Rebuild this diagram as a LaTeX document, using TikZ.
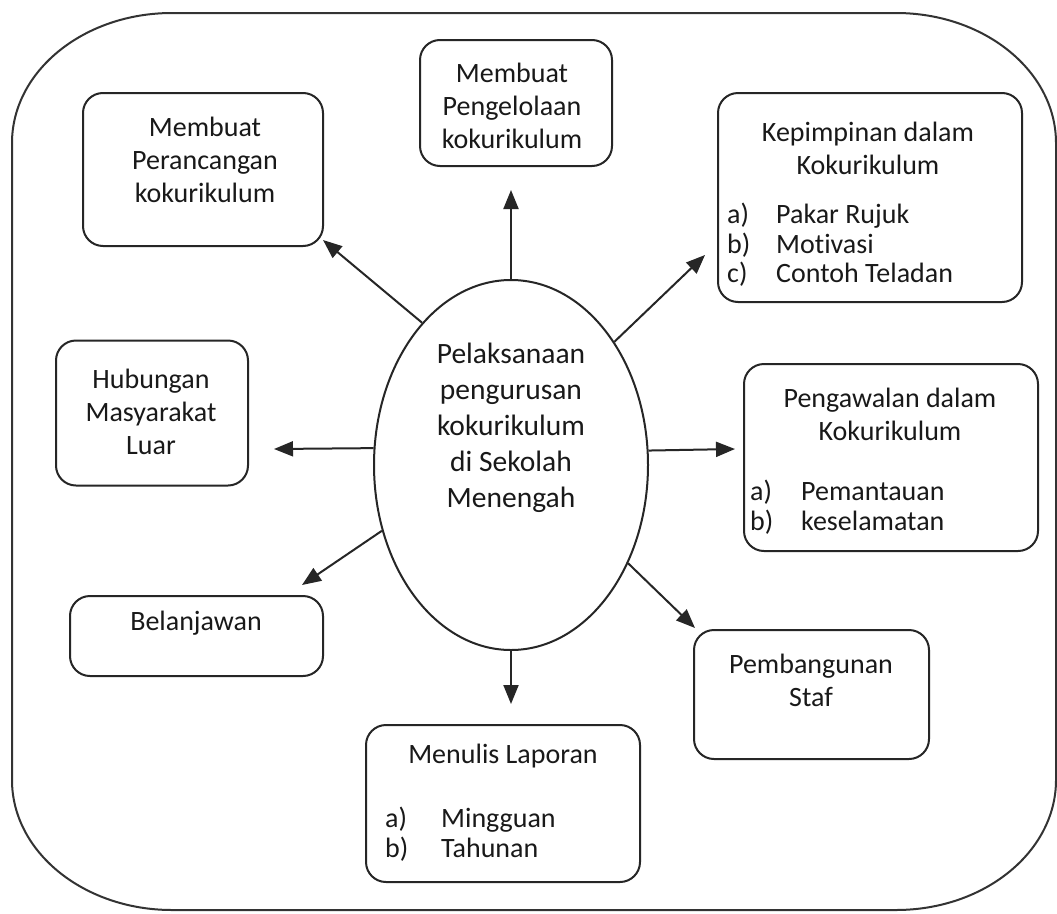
\documentclass[tikz,border=0pt]{standalone}
\usepackage{fontspec}
\setmainfont{Carlito}[Ligatures=NoCommon]
\usetikzlibrary{arrows.meta,shapes.geometric}
\tikzset{
  x=1pt,y=-1pt,
  box/.style={draw=black!85,line width=2pt,rounded corners=20pt,inner sep=0pt},
  txt/.style={inner sep=0pt,align=center,text=black!90,font=\fontsize{28}{33}\selectfont},
  lst/.style={inner sep=0pt,align=left,anchor=west,text=black!90,font=\fontsize{28}{29.5}\selectfont},
  ctxt/.style={inner sep=0pt,align=center,text=black!90,font=\fontsize{29.5}{36}\selectfont},
  conn/.style={line width=2pt,draw=black!85,-{Triangle[length=19pt,width=15pt]}},
  outer/.style={draw=black!80,line width=2pt}
}
\newcommand{\lab}[2]{\makebox[#1][l]{#2}}
\begin{document}
\begin{tikzpicture}
\useasboundingbox[fill=white] (0,0) rectangle (1057,913);
% outer frame
\draw[outer] (172,13) -- (896,13)
  arc[start angle=-90,end angle=0,x radius=160,y radius=130] -- (1056,780)
  arc[start angle=0,end angle=90,x radius=160,y radius=130] -- (172,910)
  arc[start angle=90,end angle=180,x radius=160,y radius=130] -- (12,143)
  arc[start angle=180,end angle=270,x radius=160,y radius=130] -- cycle;
% centre ellipse
\node[ellipse,draw=black!85,line width=2pt,minimum width=274pt,minimum height=370pt,inner sep=0pt] (c) at (511,465) {};
\node[ctxt] (ct) at (511,428) {Pelaksanaan\\pengurusan\\kokurikulum\\di Sekolah\\Menengah};
% boxes
\node[box,minimum width=240pt,minimum height=153pt] (b1) at (203,169.5) {};
\node[box,minimum width=192pt,minimum height=126pt] (b2) at (516,103) {};
\node[box,minimum width=304pt,minimum height=209pt] (b3) at (870,197.5) {};
\node[box,minimum width=192pt,minimum height=145pt] (b4) at (152,413) {};
\node[box,minimum width=294pt,minimum height=187pt] (b5) at (891,457.5) {};
\node[box,minimum width=253pt,minimum height=80pt] (b6) at (196.5,636) {};
\node[box,minimum width=235pt,minimum height=129pt] (b7) at (811.5,694.5) {};
\node[box,minimum width=274pt,minimum height=157pt] (b8) at (503,803.5) {};
% texts
\node[txt] (t1) at (205,160) {Membuat\\Perancangan\\kokurikulum};
\node[txt] (t2) at (512,106) {Membuat\\Pengelolaan\\kokurikulum};
\node[txt] (t3) at (868,148) {Kepimpinan dalam\\Kokurikulum};
\node[lst] (l3) at (727,245) {\lab{49pt}{a)}Pakar Rujuk\\\lab{49pt}{b)}Motivasi\\\lab{49pt}{c)}Contoh Teladan};
\node[txt] (t4) at (151,412) {Hubungan\\Masyarakat\\Luar};
\node[txt] (t5) at (890,414) {Pengawalan dalam\\Kokurikulum};
\node[lst] (l5) at (750,507) {\lab{51pt}{a)}Pemantauan\\\lab{51pt}{b)}keselamatan};
\node[txt] (t6) at (196,623) {Belanjawan};
\node[txt] (t7) at (811,680) {Pembangunan\\Staf};
\node[txt] (t8) at (503,756) {Menulis Laporan};
\node[lst] (l8) at (385,834) {\lab{56pt}{a)}Mingguan\\\lab{56pt}{b)}Tahunan};
% arrow ends
\coordinate (e1) at (323,240);
\coordinate (e2) at (511,190);
\coordinate (e3) at (705,255);
\coordinate (e4) at (274,449);
\coordinate (e5) at (735,449);
\coordinate (e6) at (302,585);
\coordinate (e7) at (695,628);
\coordinate (e8) at (511,704);
\draw[conn] (c.122.5) -- (e1);
\draw[conn] (c.90) -- (e2);
\draw[conn] (c.50.2) -- (e3);
\draw[conn] (c.173.3) -- (e4);
\draw[conn] (c.6.7) -- (e5);
\draw[conn] (c.207.1) -- (e6);
\draw[conn] (c.320.1) -- (e7);
\draw[conn] (c.270) -- (e8);
\end{tikzpicture}
\end{document}
